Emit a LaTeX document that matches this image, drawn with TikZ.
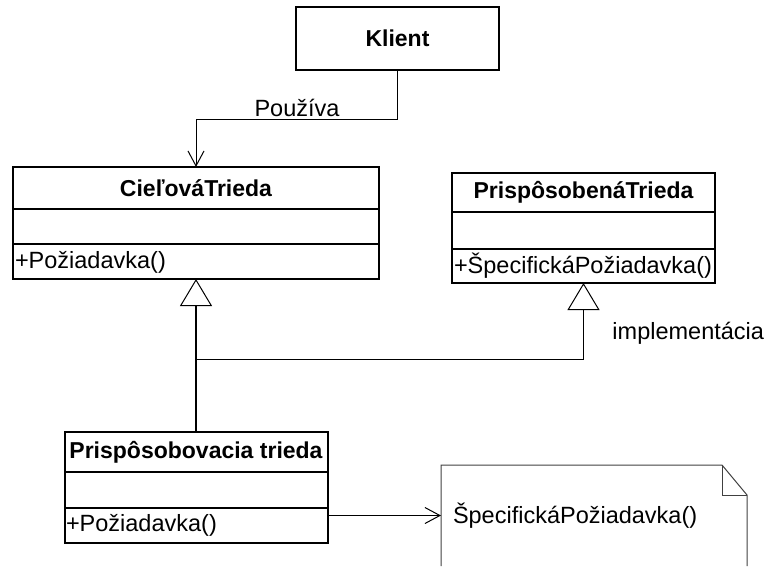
\documentclass[tikz,border=0pt]{standalone}
\usepackage{fontspec}
\setmainfont{Liberation Sans}
\usetikzlibrary{arrows.meta}

\begin{document}
\begin{tikzpicture}[x=1pt,y=-1pt,
  font=\fontsize{23.5}{27}\selectfont,
  every node/.style={inner sep=0pt, outer sep=0pt},
  frame/.style={draw, line width=#1, rectangle},
  frame/.default=2pt,
  ttl/.style={font=\fontsize{23}{27}\selectfont\bfseries},
  sep/.style={line width=2pt},
  inherit/.style={line width=1pt, -{Triangle[open, length=27pt, width=32pt, line width=1pt]}},
  uses/.style={line width=1pt, -{Straight Barb[length=15pt, width=16pt, line width=1pt]}},
  notebox/.style={draw=black!75, line width=1pt}
]
\useasboundingbox (0,0) rectangle (766,566);

% client
\node[frame=1.2pt, minimum width=203pt, minimum height=63pt] (kl) at (397.5,38.5) {};
\node[ttl] (klt) at (kl.center) {Klient};

% target class
\node[frame, minimum width=366pt, minimum height=112pt] (ct) at (196,223) {};
\draw[sep] (13,209) -- (379,209);
\draw[sep] (13,244) -- (379,244);
\node[ttl] (ctt) at (196,188) {CieľováTrieda};
\node[anchor=west] (ctm) at (15,262) {+Požiadavka()};

% adaptee class
\node[frame, minimum width=263pt, minimum height=110pt] (pbt) at (583.5,228) {};
\draw[sep] (452,212) -- (715,212);
\draw[sep] (452,249) -- (715,249);
\node[ttl] (pbtt) at (583.5,192.5) {PrispôsobenáTrieda};
\node[anchor=west] (pbtm) at (454,266) {+ŠpecifickáPožiadavka()};

% adapter class
\node[frame, minimum width=263pt, minimum height=111pt] (pat) at (196,487.5) {};
\draw[sep] (64.5,472) -- (327.5,472);
\draw[sep] (64.5,508) -- (327.5,508);
\node[ttl] (patt) at (196,452) {Prispôsobovacia trieda};
\node[anchor=west] (patm) at (66,525.5) {+Požiadavka()};

% note
\node (note) at (594,515.5) [minimum width=306pt, minimum height=101pt] {};
\draw[notebox] (note.south west) -- (note.north west) -- (722,465) -- (747,495) -- (note.south east);
\draw[notebox] (722,465) -- (722,495) -- (747,495);
\node[anchor=west] (notet) at (453,516) {ŠpecifickáPožiadavka()};

% uses association
\draw[uses] (kl.south) -- ++(0,49) coordinate (bend) -| (ct.north);
\node (usel) at (297,108) {Používa};

% generalisation and realisation
\coordinate (junc) at (196,359);
\draw[line width=1.6pt] (pat.north) -- (junc);
\draw[inherit, line width=1.6pt] (junc) -- (ct.south);
\draw[inherit] (junc) -| (pbt.south);
\node[anchor=east] (impl) at (764,333) {implementácia};

% call into the note
\draw[uses] (pat.east |- note.west) -- (note.west);
\end{tikzpicture}
\end{document}
